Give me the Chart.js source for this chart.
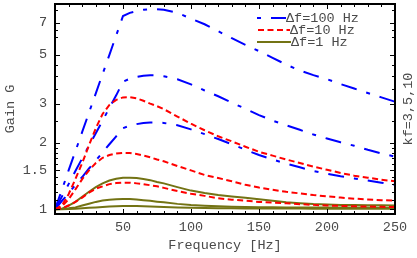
<!DOCTYPE html>
<html>
<head>
<meta charset="utf-8">
<script src="https://cdn.jsdelivr.net/npm/chart.js@4/dist/chart.umd.min.js"></script>
<style>
  html, body { margin: 0; padding: 0; background: #fff; }
</style>
</head>
<body>
<canvas id="c" width="417" height="258"></canvas>
<script>
// frequency grid [Hz]
var freq = [0, 5, 10, 15, 20, 25, 30, 35, 40, 45, 50, 55, 60, 65, 70, 75, 80, 90, 100,
            110, 120, 130, 140, 150, 160, 170, 180, 190, 200, 210, 220, 230, 240, 250];

// gain, df = 100 Hz (blue)
var df100_kf10 = [1.0, 1.22, 1.5, 1.83, 2.24, 2.74, 3.35, 4.1, 5.0, 6.13, 7.5, 7.75, 7.9, 8.0, 8.05, 8.05, 8.0, 7.75, 7.3,
                  6.88, 6.4, 5.95, 5.55, 5.2, 4.85, 4.52, 4.25, 4.05, 3.88, 3.69, 3.52, 3.36, 3.21, 3.07];
var df100_kf5  = [1.0, 1.14, 1.30, 1.49, 1.70, 1.94, 2.21, 2.52, 2.88, 3.28, 3.78, 3.9, 3.97, 4.02, 4.04, 4.04, 4.0, 3.88, 3.68,
                  3.45, 3.25, 3.04, 2.85, 2.67, 2.52, 2.40, 2.29, 2.18, 2.09, 2.01, 1.94, 1.86, 1.79, 1.73];
var df100_kf3  = [1.0, 1.09, 1.18, 1.29, 1.40, 1.53, 1.66, 1.81, 1.97, 2.14, 2.33, 2.39, 2.43, 2.46, 2.47, 2.47, 2.46, 2.40, 2.30,
                  2.19, 2.08, 1.97, 1.86, 1.76, 1.68, 1.61, 1.55, 1.49, 1.45, 1.41, 1.38, 1.35, 1.32, 1.29];
// df = 10 Hz (red)
var df10_kf10 = [1.0, 1.04, 1.17, 1.37, 1.62, 1.95, 2.33, 2.70, 2.97, 3.13, 3.21, 3.22, 3.18, 3.10, 3.01, 2.93, 2.84, 2.63, 2.44,
                 2.28, 2.14, 2.03, 1.92, 1.82, 1.75, 1.68, 1.62, 1.56, 1.51, 1.46, 1.42, 1.39, 1.36, 1.34];
var df10_kf5  = [1.0, 1.03, 1.11, 1.23, 1.37, 1.50, 1.62, 1.71, 1.76, 1.79, 1.80, 1.80, 1.78, 1.75, 1.72, 1.68, 1.65, 1.57, 1.50,
                 1.43, 1.385, 1.34, 1.29, 1.255, 1.225, 1.20, 1.18, 1.16, 1.145, 1.13, 1.117, 1.108, 1.10, 1.093];
var df10_kf3  = [1.0, 1.01, 1.04, 1.08, 1.13, 1.19, 1.24, 1.27, 1.30, 1.315, 1.32, 1.32, 1.31, 1.30, 1.285, 1.27, 1.25, 1.21, 1.175,
                 1.15, 1.122, 1.105, 1.093, 1.08, 1.072, 1.065, 1.055, 1.047, 1.04, 1.036, 1.032, 1.029, 1.026, 1.024];
// df = 1 Hz (olive)
var df1_kf10 = [1.0, 1.005, 1.04, 1.08, 1.14, 1.20, 1.26, 1.31, 1.35, 1.375, 1.39, 1.39, 1.385, 1.37, 1.355, 1.33, 1.31, 1.26, 1.215,
                1.185, 1.16, 1.142, 1.127, 1.11, 1.093, 1.077, 1.066, 1.056, 1.05, 1.047, 1.045, 1.043, 1.042, 1.04];
var df1_kf5  = [1.0, 1.002, 1.01, 1.02, 1.04, 1.06, 1.08, 1.095, 1.105, 1.11, 1.112, 1.112, 1.108, 1.10, 1.092, 1.083, 1.075, 1.058, 1.045,
                1.037, 1.031, 1.027, 1.024, 1.022, 1.021, 1.02, 1.02, 1.019, 1.019, 1.018, 1.018, 1.018, 1.017, 1.017];
var df1_kf3  = [1.0, 1.0, 1.003, 1.006, 1.01, 1.015, 1.02, 1.025, 1.03, 1.033, 1.035, 1.035, 1.035, 1.033, 1.03, 1.028, 1.025, 1.02, 1.016,
                1.013, 1.011, 1.01, 1.009, 1.008, 1.008, 1.007, 1.007, 1.006, 1.006, 1.006, 1.005, 1.005, 1.005, 1.005];

var legendLabels = ["\u0394f=100 Hz", "\u0394f=10 Hz", "\u0394f=1 Hz"];
var sideLabel = "kf=3,5,10";
var yTicks = [1, 1.5, 2, 3, 5, 7];
var yMinor = [1.1, 1.2, 1.3, 1.4, 1.6, 1.7, 1.8, 1.9, 2.5, 3.5, 4, 4.5, 6, 6.5, 8];
var xTicks = [50, 100, 150, 200];
var xMinor = [10, 20, 30, 40, 60, 70, 80, 90, 110, 120, 130, 140, 160, 170, 180, 190, 210, 220, 230, 240];

var FONT = "'Liberation Mono', 'DejaVu Sans Mono', monospace";
var TEXT = '#4a4a4a';
var BLUE = '#0000ff', RED = '#ff0000', OLIVE = '#737314';
var blueDash = [16, 10, 4, 10], redDash = [6, 3.5];

function pts(ys) {
	return freq.map(function(f, i) { return {x: f, y: ys[i]}; });
}
function line(ys, color, dash, order) {
	return {data: pts(ys), borderColor: color, borderWidth: 2, borderDash: dash,
	        pointRadius: 0, tension: 0, fill: false, order: order};
}

var datasets = [
	line(df100_kf10, BLUE, blueDash, 2), line(df100_kf5, BLUE, blueDash, 2), line(df100_kf3, BLUE, blueDash, 2),
	line(df10_kf10, RED, redDash, 1), line(df10_kf5, RED, redDash, 1), line(df10_kf3, RED, redDash, 1),
	line(df1_kf10, OLIVE, [], 3), line(df1_kf5, OLIVE, [], 3), line(df1_kf3, OLIVE, [], 3)
];

// frame with inward ticks, legend and the side note
var framePlugin = {
	id: 'frame',
	afterDraw: function(chart) {
		var ctx = chart.ctx, a = chart.chartArea;
		var xs = chart.scales.x, ys = chart.scales.y;
		ctx.save();
		ctx.strokeStyle = '#000';
		ctx.lineWidth = 1;
		ctx.beginPath();
		function xt(list, len) {
			list.forEach(function(v) {
				var px = Math.round(xs.getPixelForValue(v)) + 0.5;
				ctx.moveTo(px, a.bottom); ctx.lineTo(px, a.bottom - len);
				ctx.moveTo(px, a.top); ctx.lineTo(px, a.top + len);
			});
		}
		function yt(list, len) {
			list.forEach(function(v) {
				var py = Math.round(ys.getPixelForValue(v)) + 0.5;
				ctx.moveTo(a.left, py); ctx.lineTo(a.left + len, py);
				ctx.moveTo(a.right, py); ctx.lineTo(a.right - len, py);
			});
		}
		xt(xTicks, 5); xt(xMinor, 3);
		yt(yTicks, 5); yt(yMinor, 3);
		ctx.stroke();
		ctx.lineWidth = 2;
		ctx.strokeRect(a.left, a.top, a.right - a.left, a.bottom - a.top);

		// legend
		var rows = [
			{y: 18, x0: 257, x1: 286, color: BLUE, dash: blueDash, off: 26},
			{y: 30, x0: 258, x1: 290, color: RED, dash: redDash, off: 0},
			{y: 42, x0: 257, x1: 291, color: OLIVE, dash: [], off: 0}
		];
		ctx.font = '13.5px ' + FONT;
		ctx.textBaseline = 'middle';
		ctx.textAlign = 'left';
		rows.forEach(function(r, i) {
			ctx.beginPath();
			ctx.strokeStyle = r.color;
			ctx.lineWidth = 2;
			ctx.setLineDash(r.dash);
			ctx.lineDashOffset = r.off;
			ctx.moveTo(r.x0, r.y); ctx.lineTo(r.x1, r.y);
			ctx.stroke();
			ctx.setLineDash([]);
			ctx.fillStyle = TEXT;
			ctx.fillText(legendLabels[i], r.x1, r.y);
		});

		// side label, reading upwards
		ctx.translate(408, (a.top + a.bottom) / 2);
		ctx.rotate(-Math.PI / 2);
		ctx.textAlign = 'center';
		ctx.fillText(sideLabel, 0, 0);
		ctx.restore();
	}
};

new Chart(document.getElementById('c'), {
	type: 'line',
	data: {datasets: datasets},
	options: {
		responsive: false,
		animation: false,
		events: [],
		layout: {padding: {top: 4, right: 22, left: 0, bottom: 0}},
		plugins: {legend: {display: false}, tooltip: {enabled: false}},
		scales: {
			x: {
				type: 'linear', min: 0, max: 250,
				grid: {display: false, drawTicks: false},
				border: {display: false},
				afterBuildTicks: function(s) { s.ticks = [0].concat(xTicks, [250]).map(function(v) { return {value: v}; }); },
				ticks: {
					padding: 5, color: TEXT, maxRotation: 0, autoSkip: false,
					font: {family: FONT, size: 13.5},
					callback: function(v) { return v === 0 ? '' : String(v); }
				},
				title: {display: true, text: 'Frequency [Hz]', color: TEXT,
				        font: {family: FONT, size: 13.5}, padding: {top: 0, bottom: 4}},
				afterFit: function(s) { s.height = 44; s.paddingLeft = 0; s.paddingRight = 0; }
			},
			y: {
				type: 'logarithmic', min: 0.952, max: 8.5,
				grid: {display: false, drawTicks: false},
				border: {display: false},
				afterBuildTicks: function(s) { s.ticks = yTicks.map(function(v) { return {value: v}; }); },
				ticks: {
					padding: 8, color: TEXT, autoSkip: false,
					font: {family: FONT, size: 13.5},
					callback: function(v) { return String(v); }
				},
				title: {display: true, text: 'Gain G', color: TEXT,
				        font: {family: FONT, size: 13.5}, padding: {top: 2, bottom: 0}},
				afterFit: function(s) { s.width = 55; s.paddingTop = 0; s.paddingBottom = 0; }
			}
		}
	},
	plugins: [framePlugin]
});
</script>
</body>
</html>
